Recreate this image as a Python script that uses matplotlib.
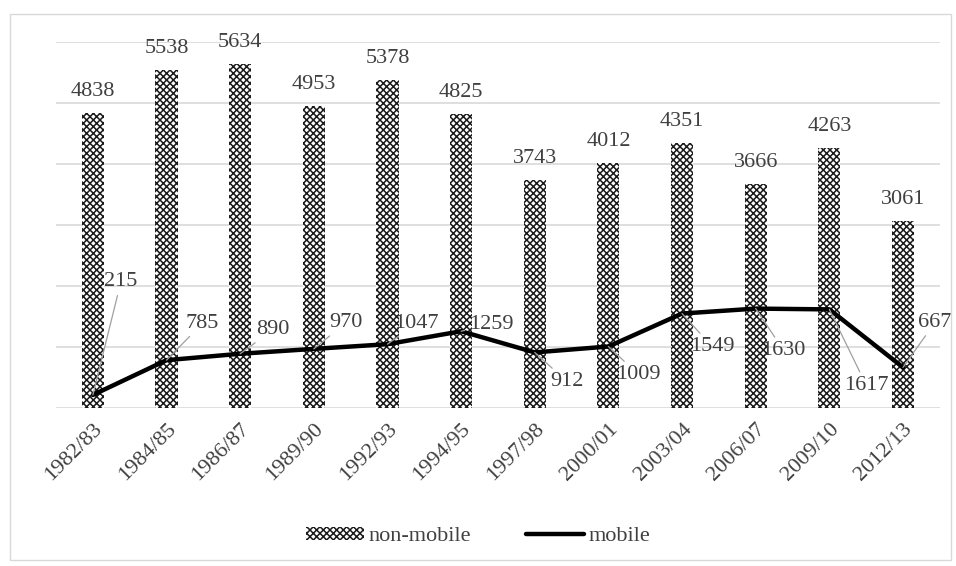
import numpy as np
import matplotlib.pyplot as plt
from matplotlib.patches import Rectangle

# Chart data
years = ["1982/83", "1984/85", "1986/87", "1989/90", "1992/93", "1994/95",
         "1997/98", "2000/01", "2003/04", "2006/07", "2009/10", "2012/13"]
non_mobile = [4838, 5538, 5634, 4953, 5378, 4825, 3743, 4012, 4351, 3666, 4263, 3061]
mobile = [215, 785, 890, 970, 1047, 1259, 912, 1009, 1549, 1630, 1617, 667]

# label offsets for the mobile series (pixels from the point)
label_offsets = [(28, 113), (36, 37), (33, 24), (32, 26), (29, 21), (30, 7),
                 (32, -29), (30, -28), (30, -33), (28, -42), (37, -76), (32, 45)]

plt.rcParams['font.family'] = ['Liberation Serif', 'DejaVu Serif']
plt.rcParams['hatch.linewidth'] = 1.1

fig = plt.figure(figsize=(9.56, 5.66), dpi=100)
ax = fig.add_axes([0.0586, 0.279, 0.9245, 0.647])

x = np.arange(len(years))
bars = ax.bar(x, non_mobile, width=0.3, color='white', edgecolor='#1a1a1a',
              hatch='xxxxx', linewidth=0, label='non-mobile', zorder=2)
line, = ax.plot(x, mobile, color='black', lw=3.2, solid_capstyle='round',
                label='mobile', zorder=3)

for xi, v in zip(x, non_mobile):
    ax.annotate(str(v), (xi, v), xytext=(0, 12), textcoords='offset pixels',
                ha='center', va='bottom', fontsize=16, color='#404040')

for xi, v, (dx, dy) in zip(x, mobile, label_offsets):
    ax.annotate(str(v), (xi, v), xytext=(dx, dy), textcoords='offset pixels',
                ha='center', va='center', fontsize=16, color='#404040',
                arrowprops=dict(arrowstyle='-', color='#a0a0a0', lw=0.9,
                                shrinkA=1, shrinkB=0), zorder=4)

ax.set_xlim(-0.5, len(years) - 0.5)
ax.set_ylim(0, 6000)
ax.set_yticks(np.arange(0, 6001, 1000))
ax.set_yticklabels([])
ax.tick_params(axis='y', length=0)
ax.tick_params(axis='x', length=0, pad=8)
ax.set_xticks(x)
ax.set_xticklabels(years, rotation=45, ha='right', rotation_mode='anchor',
                   fontsize=16, color='#404040')
ax.grid(axis='y', color='#d9d9d9', lw=1.2, zorder=0)
ax.set_axisbelow(True)
for s in ax.spines.values():
    s.set_visible(False)

leg = fig.legend([bars, line], ['non-mobile', 'mobile'], loc='center',
                 bbox_to_anchor=(0.5, 0.052), ncol=2, frameon=False,
                 fontsize=16, handlelength=2.6, handleheight=0.5,
                 handletextpad=0.2, columnspacing=2.5)
for t in leg.get_texts():
    t.set_color('#404040')

# outer chart border
fig.add_artist(Rectangle((0.01, 0.01), 0.985, 0.965, transform=fig.transFigure,
                         fill=False, edgecolor='#d9d9d9', lw=1))

fig.savefig('out.png', dpi=100)
